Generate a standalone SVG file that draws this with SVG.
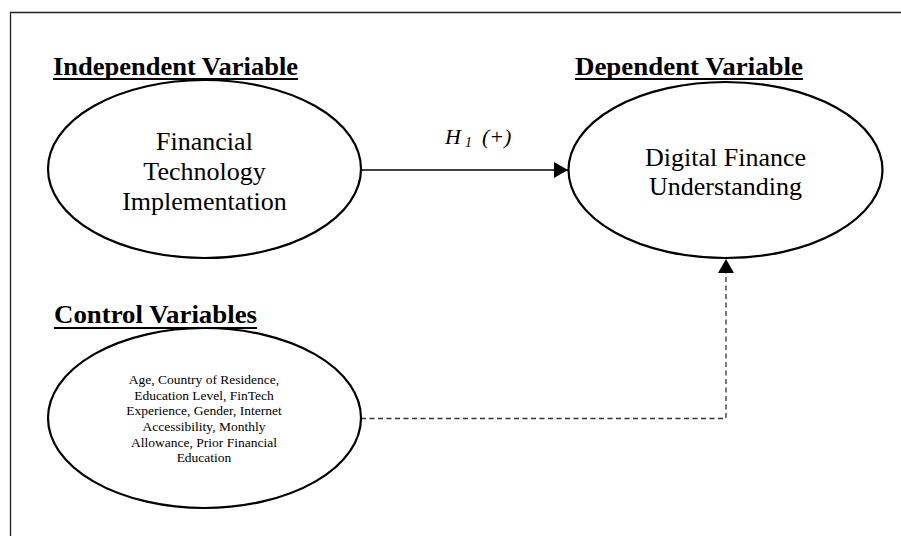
<svg xmlns="http://www.w3.org/2000/svg" width="901" height="536" viewBox="0 0 901 536">
<style>
.frame{fill:none;stroke:#222;stroke-width:1.3}
.node{fill:#fff;stroke:#000;stroke-width:2.2}
.head{font-family:"Liberation Serif","Times New Roman",serif;font-weight:bold;font-size:26px;fill:#000}
.ul{stroke:#000;stroke-width:2}
.big{font-family:"Liberation Serif","Times New Roman",serif;font-size:26px;fill:#000;text-anchor:middle}
.small{font-family:"Liberation Serif","Times New Roman",serif;font-size:13.5px;fill:#000;text-anchor:middle}
.lbl{font-family:"Liberation Serif","Times New Roman",serif;font-style:italic;font-size:22px;fill:#000}
.solid{fill:none;stroke:#000;stroke-width:1.3}
.dash{fill:none;stroke:#333;stroke-width:1.3;stroke-dasharray:5 3.5}
</style>
<defs>
<marker id="arr" viewBox="0 0 14 16" refX="14" refY="8" markerWidth="14" markerHeight="16" markerUnits="userSpaceOnUse" orient="auto">
<path d="M0,0 L14,8 L0,16 Z" fill="#000"/>
</marker>
</defs>
<rect width="901" height="536" fill="#fff"/>
<path class="frame" d="M10.5,540 V12.5 H905"/>
<g id="connectors">
<line class="solid" x1="361" y1="170" x2="568" y2="170" marker-end="url(#arr)"/>
<text class="lbl" x="445" y="144">H<tspan font-size="14" dy="3" dx="4">1</tspan><tspan dy="-3" dx="10">(+)</tspan></text>
<path class="dash" d="M361,418.5 H726 V272"/>
<path d="M726,259 L734,273 L718,273 Z" fill="#000"/>
</g>
<g id="independent">
<text class="head" x="53" y="75" textLength="245" lengthAdjust="spacingAndGlyphs">Independent Variable</text>
<line class="ul" x1="53" y1="79" x2="298" y2="79"/>
<ellipse class="node" cx="204.5" cy="169" rx="156.5" ry="89"/>
<text class="big" x="204.5" y="150">Financial</text>
<text class="big" x="204.5" y="180">Technology</text>
<text class="big" x="204.5" y="210">Implementation</text>
</g>
<g id="dependent">
<text class="head" x="575" y="75" textLength="228" lengthAdjust="spacingAndGlyphs">Dependent Variable</text>
<line class="ul" x1="575" y1="79" x2="803" y2="79"/>
<ellipse class="node" cx="725.5" cy="170" rx="157" ry="88"/>
<text class="big" x="725.5" y="166">Digital Finance</text>
<text class="big" x="725.5" y="195">Understanding</text>
</g>
<g id="control">
<text class="head" x="54" y="323" textLength="203" lengthAdjust="spacingAndGlyphs">Control Variables</text>
<line class="ul" x1="54" y1="328" x2="257" y2="328"/>
<ellipse class="node" cx="204.5" cy="418" rx="156.5" ry="90"/>
<text class="small" x="204" y="384">Age, Country of Residence,</text>
<text class="small" x="204" y="400">Education Level, FinTech</text>
<text class="small" x="204" y="414.5">Experience,  Gender, Internet</text>
<text class="small" x="204" y="431">Accessibility, Monthly</text>
<text class="small" x="204" y="447">Allowance, Prior Financial</text>
<text class="small" x="204" y="462">Education</text>
</g>
</svg>
